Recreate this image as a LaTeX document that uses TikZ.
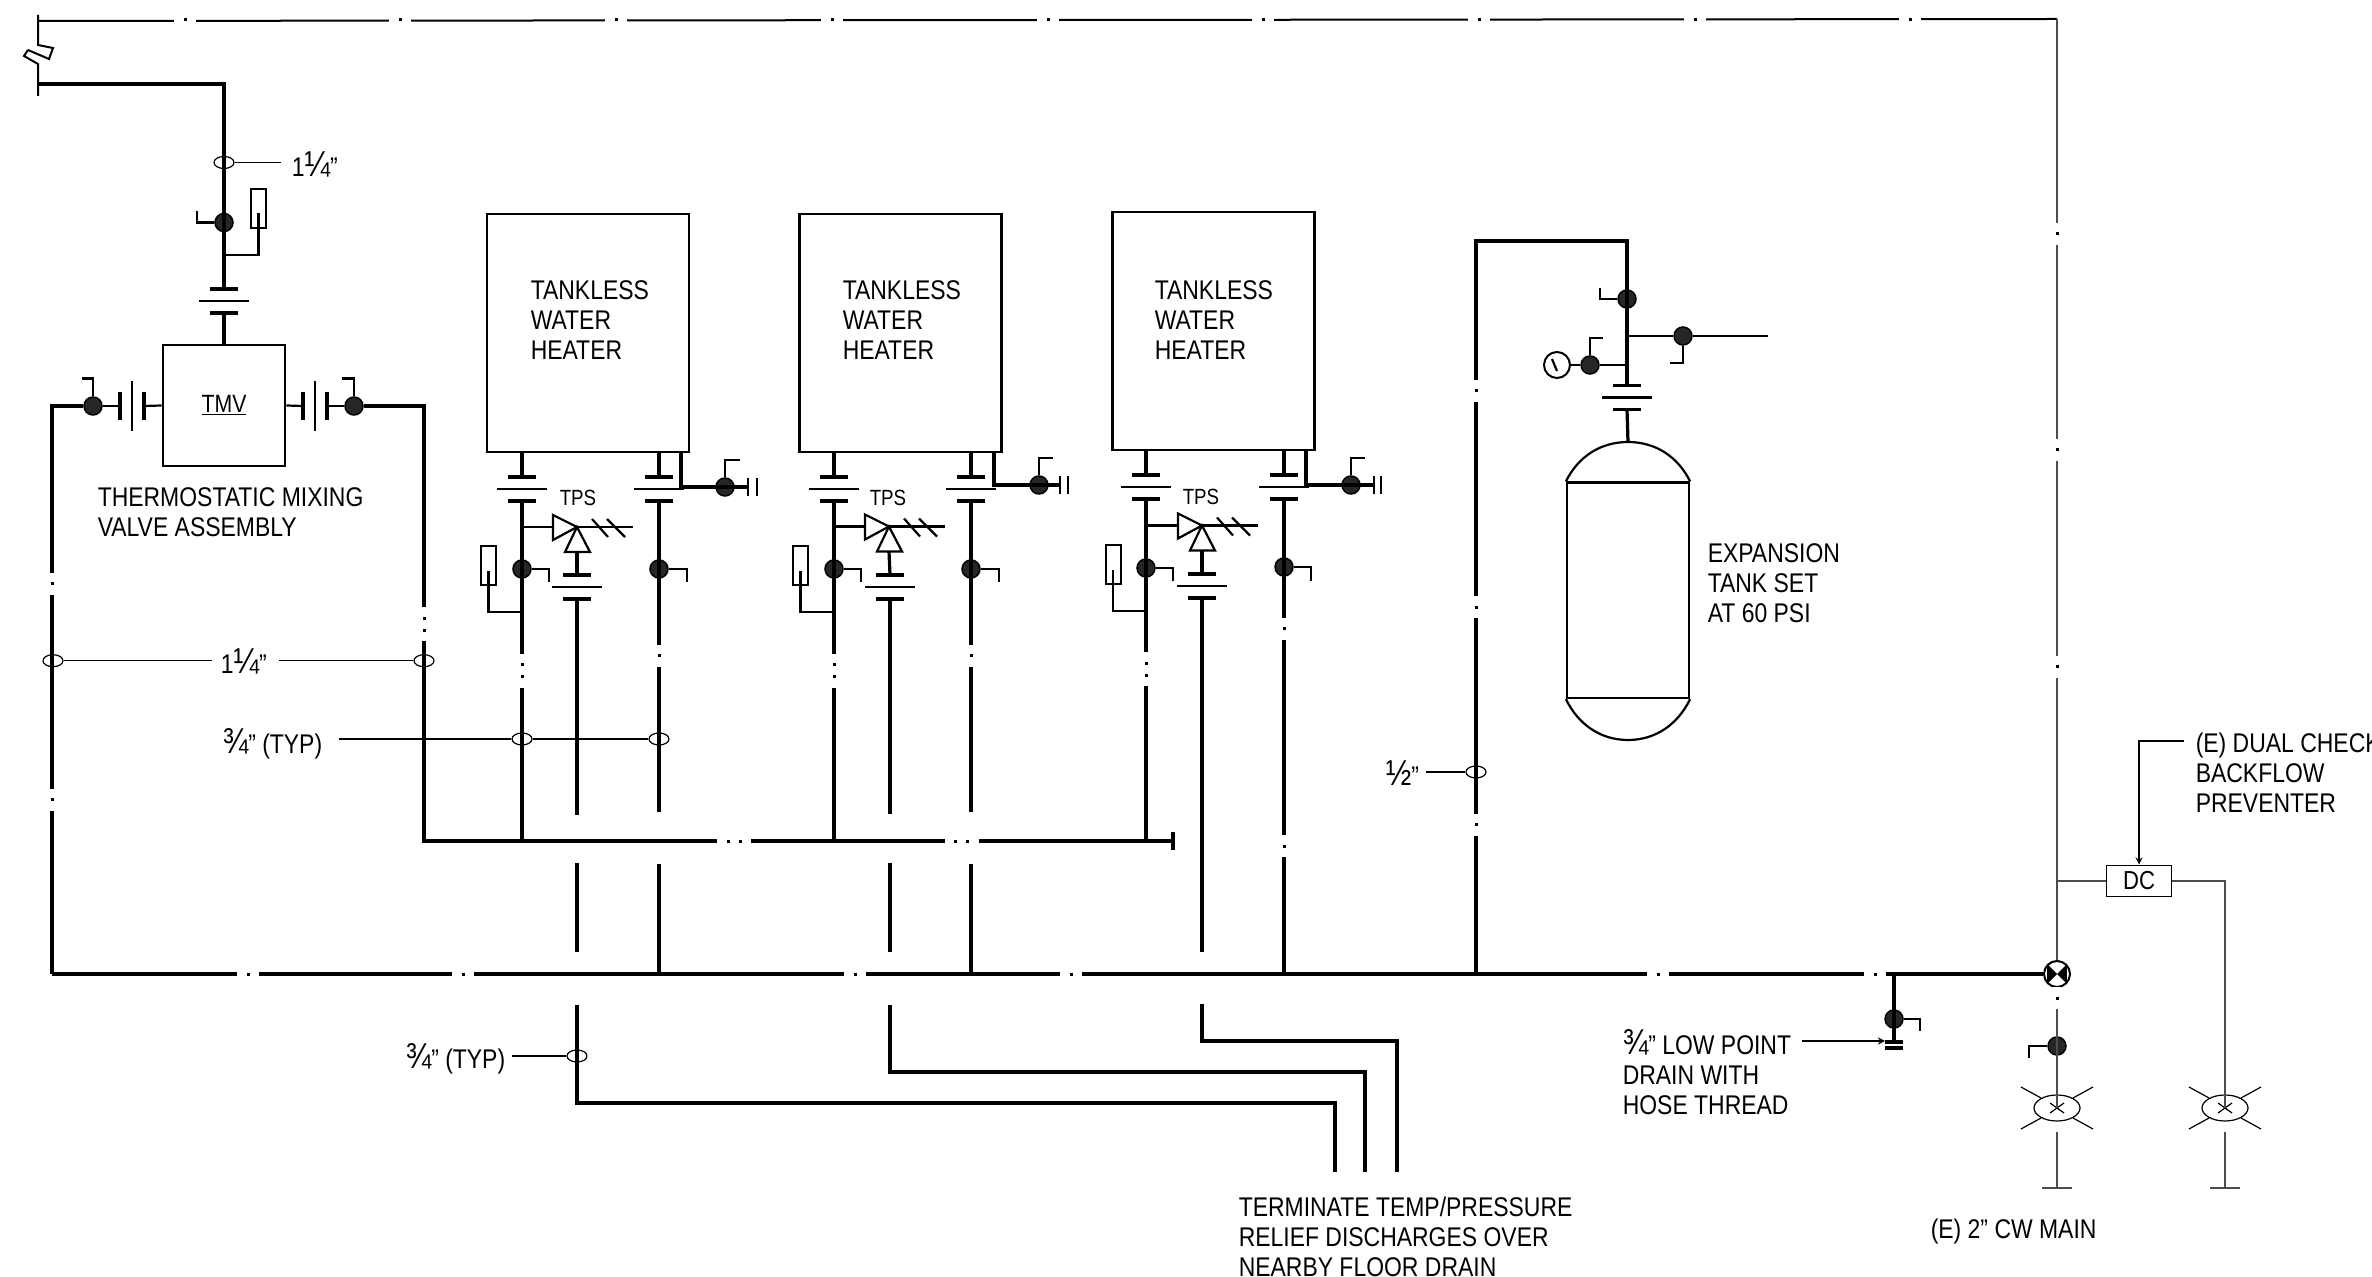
\documentclass[tikz,border=0pt]{standalone}
\usepackage{fontspec}
\setmainfont[FakeStretch=0.85]{Liberation Sans}
\usetikzlibrary{shapes.geometric}

\newcommand{\pf}[1]{{\fontsize{18}{18}\selectfont #1}}

\tikzset{every picture/.style={line width=0.75pt}}
\tikzset{
  pipe/.style={line width=1.6pt},
  branch/.style={line width=1.1pt},
  cold/.style={line width=1pt},
  coldgrey/.style={line width=0.8pt,color=black!70},
  leader/.style={line width=0.6pt},
  valve/.style={circle,draw,fill=black!85,inner sep=0pt,minimum size=9pt},
  sizetag/.style={ellipse,draw,inner sep=0pt,minimum width=10pt,minimum height=6pt,line width=0.6pt},
  gaugebox/.style={rectangle,draw,line width=1pt,inner sep=0pt,minimum width=7.5pt,minimum height=19.5pt},
  heater/.style={rectangle,draw,line width=1.3pt,inner sep=0pt,minimum width=101pt,minimum height=119pt},
  note/.style={anchor=north west,inner sep=0pt,align=left,font=\fontsize{13.5}{15}\selectfont},
  small note/.style={note,font=\fontsize{11}{13}\selectfont},
  union/.pic={
    \draw[pipe] (-14,12) -- (14,12);
    \draw[branch] (-25,0) -- (25,0);
    \draw[pipe] (-14,-12) -- (14,-12);
    \coordinate (-a) at (0,12);
    \coordinate (-b) at (0,-12);
  },
  relief/.pic={
    \draw[branch] (-24,12) -- (0,0) -- (-24,-13) -- cycle;
    \draw[branch] (0,0) -- (-12,-25) -- (13,-25) -- cycle;
    \draw[branch] (0,0) -- (56,0);
    \draw[branch] (15,8) -- (31,-10);
    \draw[branch] (30,8) -- (48,-10);
    \coordinate (-in) at (-24,0);
    \coordinate (-stem) at (0,-25);
  },
  gapone/.pic={
    \fill[white] (-11,-4) rectangle (11,4);
    \fill[black] (-1.5,-1.5) rectangle (1.5,1.5);
  },
  gaptwo/.pic={
    \fill[white] (-17,-4) rectangle (17,4);
    \fill[black] (-7.5,-1.5) rectangle (-4.5,1.5);
    \fill[black] (4.5,-1.5) rectangle (7.5,1.5);
  },
  crossing/.pic={
    \draw[leader] (-36,-21) -- (-16,-10);
    \draw[leader] (36,-21) -- (16,-10);
    \draw[leader] (-36,21) -- (-16,10);
    \draw[leader] (36,21) -- (16,10);
    \draw[leader] (-7,-5) -- (7,5);
    \draw[leader] (-7,5) -- (7,-5);
  },
}

\begin{document}
\begin{tikzpicture}[x=0.5pt,y=0.5pt,yscale=-1,xscale=1]
\useasboundingbox (0,0) rectangle (2372,1277);

% Named points
\coordinate (tl) at (38,21);
\coordinate (tr) at (2057,19);
\coordinate (brka) at (38,15);
\coordinate (brkb) at (38,96);
\coordinate (cfa) at (38,84);
\coordinate (cfb) at (224,84);
\coordinate (jt) at (224,255);
\coordinate (lfa) at (52,406);
\coordinate (lfb) at (52,974);
\coordinate (rfa) at (424,406);
\coordinate (rfb) at (424,841);
\coordinate (subend) at (1173,841);
\coordinate (mainr) at (2040,974);

%Shape: Rectangle [heaters, mixing valve, tank]
\node[heater] (h1) at (588,333) {};
\node[heater] (h2) at (900.5,333) {};
\node[heater] (h3) at (1213.5,331) {};
\node[rectangle,draw,line width=1.3pt,inner sep=0pt,minimum width=61pt,minimum height=60.5pt,font=\fontsize{12.5}{15}\selectfont] (tmv) at (224,405.5) {\underline{TMV}};
\node[rectangle,draw,line width=1.1pt,inner sep=0pt,minimum width=61pt,minimum height=107.75pt] (tank) at (1628,590.25) {};
\node[rectangle,draw,line width=0.7pt,inner sep=0pt,minimum width=32.25pt,minimum height=15.75pt,font=\fontsize{13}{15}\selectfont] (dc) at (2139,881) {DC};

%Shape: Unions
\pic (unt) at (224,301) {union};
\pic[rotate=90] (unl) at (132,406) {union};
\pic[rotate=90] (unr) at (315,406) {union};
\pic (un1a) at (522,489) {union};
\pic (un1b) at (659,489) {union};
\pic (un1c) at (577,587) {union};
\pic (un2a) at (834,489) {union};
\pic (un2b) at (971,489) {union};
\pic (un2c) at (890,587) {union};
\pic (un3a) at (1146,487) {union};
\pic (un3b) at (1284,487) {union};
\pic (un3c) at (1202,586) {union};
\pic (une) at (1627,397.5) {union};

%Shape: Relief valves
\pic (rv1) at (577,527) {relief};
\pic (rv2) at (889,526.5) {relief};
\pic (rv3) at (1202,525.5) {relief};

%Shape: Ball valves
\node[valve] (vt) at (224,222.5) {};
\node[valve] (vl) at (93,406) {};
\node[valve] (vr) at (354,406) {};
\node[valve] (v1a) at (522,569) {};
\node[valve] (v1b) at (659,569) {};
\node[valve] (v1c) at (725,487) {};
\node[valve] (v2a) at (834,569) {};
\node[valve] (v2b) at (971,569) {};
\node[valve] (v2c) at (1039,485) {};
\node[valve] (v3a) at (1146,568) {};
\node[valve] (v3b) at (1284,567) {};
\node[valve] (v3c) at (1351,485) {};
\node[valve] (ve1) at (1627,299) {};
\node[valve] (ve2) at (1683,336) {};
\node[valve] (ve3) at (1590,365) {};
\node[valve] (vd) at (1894,1019) {};
\node[valve] (vc) at (2057,1046) {};

%Shape: Thermometers, gauge
\node[gaugebox] (gt) at (258.5,209) {};
\node[gaugebox] (g1) at (488.5,566) {};
\node[gaugebox] (g2) at (800.5,566) {};
\node[gaugebox] (g3) at (1113,565) {};
\node[circle,draw,line width=1pt,inner sep=0pt,minimum size=13pt] (pg) at (1557,365) {};

%Shape: Pipe size marks
\node[sizetag] (tt) at (224,162.5) {};
\node[sizetag] (tl2) at (53,660.7) {};
\node[sizetag] (tr2) at (424,660.7) {};
\node[sizetag] (t1a) at (522,739) {};
\node[sizetag] (t1b) at (659,739) {};
\node[sizetag] (tdis) at (577,1056) {};
\node[sizetag] (texp) at (1476,772) {};

%Shape: Main junction
\node[circle,draw,line width=1pt,inner sep=0pt,minimum size=13pt] (mv) at (2057,974) {};
\fill (mv.center) -- (mv.135) -- (mv.225) -- cycle;
\fill (mv.center) -- (mv.45) -- (mv.-45) -- cycle;

%Shape: Curb stops
\node[ellipse,draw,line width=0.6pt,inner sep=0pt,minimum width=23pt,minimum height=13pt] (so1) at (2057,1108) {};
\node[ellipse,draw,line width=0.6pt,inner sep=0pt,minimum width=23pt,minimum height=13pt] (so2) at (2225,1108) {};
\pic at (so1) {crossing};
\pic at (so2) {crossing};

% Text Node
\node[note] (ltop) at (291,151) {1\pf{¼}"};
\node[note] (ltmv) at (97,487) {THERMOSTATIC MIXING\\VALVE ASSEMBLY};
\node[note] (lh1) at (530,280) {TANKLESS\\WATER\\HEATER};
\node[note] (lh2) at (842,280) {TANKLESS\\WATER\\HEATER};
\node[note] (lh3) at (1154,280) {TANKLESS\\WATER\\HEATER};
\node[small note] (lr1) at (559,489) {TPS};
\node[small note] (lr2) at (869,489) {TPS};
\node[small note] (lr3) at (1182,488) {TPS};
\node[note] (lexp) at (1707,543) {EXPANSION\\TANK SET\\AT 60 PSI};
\node[note] (lsup) at (220,648) {1\pf{¼}"};
\node[note] (ltyp) at (222,728) {\pf{¾}" (TYP)};
\node[note] (ldis) at (405,1043) {\pf{¾}" (TYP)};
\node[note] (lhalf) at (1385,760) {\pf{½}"};
\node[note] (llow) at (1622,1029) {\pf{¾}" LOW POINT\\DRAIN WITH\\HOSE THREAD};
\node[note] (lterm) at (1238,1196) {TERMINATE TEMP/PRESSURE\\RELIEF DISCHARGES OVER\\NEARBY FLOOR DRAIN};
\node[note] (lmain) at (1930,1218) {(E) 2" CW MAIN};
\node[note] (ldual) at (2195,732) {(E) DUAL CHECK\\BACKFLOW\\PREVENTER};

%Straight Lines [cold water]
\draw[cold] (tl) -- (tr);
\draw[coldgrey] (tr) -- (mv);
\draw[cold] (brka) -- ++(0,30) -- ++(15,3) -- ++(-4,11) -- ++(-21,-9);
\draw[cold] (brkb) -- ++(0,-32) -- ++(-14,-8) -- ++(4,-6);
\draw[coldgrey] (dc.west) -- (dc.west -| tr);
\draw[coldgrey] (dc.east) -| (so2.center);
\draw[coldgrey] (mv) -- (so1.center);
\coordinate (cwa) at (2057,1132);
\coordinate (cwb) at (2057,1188);
\coordinate (cwc) at (2225,1132);
\coordinate (cwd) at (2225,1188);
\draw[coldgrey] (cwa) -- (cwb);
\draw[coldgrey] (cwc) -- (cwd);
\draw[coldgrey] (cwb) ++(-15,0) -- ++(30,0);
\draw[coldgrey] (cwd) ++(-15,0) -- ++(30,0);
\draw[branch] (vc) -- ++(-28,0) -- ++(0,12);

%Straight Lines [to mixing valve]
\draw[pipe] (cfa) -- (cfb) -- (unt-a);
\draw[pipe] (unt-b) -- (tmv.north);
\draw[branch] (jt) -| (gt.south) -- ++(0,-16);
\draw[branch] (vt) -- ++(-27,0) -- ++(0,-11.5);
\draw[branch] (tmv.west) -- (unl-b);
\draw[branch] (tmv.east) -- (unr-a);
\draw[branch] (unl-a) -- (vl);
\draw[branch] (unr-b) -- (vr);
\draw[branch] (vl) -- ++(0,-27.5) -- ++(-11,0);
\draw[branch] (vr) -- ++(0,-27.5) -- ++(-12,0);
\draw[pipe] (vl) -- (lfa) -- (lfb);
\draw[pipe] (vr) -- (rfa) -- (rfb) -- (subend);
\draw[pipe] (subend) ++(0,-9) -- ++(0,18);
\draw[pipe] (lfb) -- (mainr) -- (mv);

%Straight Lines [heater 1]
\coordinate (h1a) at (522,452);
\coordinate (h1b) at (659,452);
\coordinate (h1c) at (681,452);
\coordinate (j1c) at (681,487);
\coordinate (b1) at (748,487);
\coordinate (s1) at (522,841);
\coordinate (j1g) at (522,612);
\coordinate (d1a) at (577,815);
\coordinate (d1b) at (577,863);
\coordinate (d1c) at (577,952);
\coordinate (d1d) at (577,1005);
\coordinate (d1e) at (577,1103);
\coordinate (d1f) at (1335,1103);
\coordinate (d1g) at (1335,1172);
\coordinate (r1a) at (659,812);
\coordinate (r1b) at (659,864);
\coordinate (r1c) at (659,974);
\draw[pipe] (h1a) -- (un1a-a);
\draw[pipe] (un1a-b) -- (s1);
\draw[branch] (rv1-in) -- (rv1-in -| s1);
\draw[pipe] (rv1-stem) -- (un1c-a);
\draw[pipe] (un1c-b) -- (d1a);
\draw[pipe] (d1b) -- (d1c);
\draw[pipe] (d1d) -- (d1e) -- (d1f) -- (d1g);
\draw[pipe] (h1b) -- (un1b-a);
\draw[pipe] (un1b-b) -- (r1a);
\draw[pipe] (r1b) -- (r1c);
\draw[pipe] (h1c) -- (j1c) -- (b1);
\draw[branch] (b1) ++(0,-9) -- ++(0,18);
\draw[branch] (b1) ++(9,-9) -- ++(0,18);
\draw[branch] (v1c) -- ++(0,-27) -- ++(15,0);
\draw[branch] (v1a) -- ++(27,0) -- ++(0,13);
\draw[branch] (v1b) -- ++(28,0) -- ++(0,13);
\draw[branch] (j1g) -| (g1.south) -- ++(0,-15);

%Straight Lines [heater 2]
\coordinate (h2a) at (834,452);
\coordinate (h2b) at (971,452);
\coordinate (h2c) at (994,452);
\coordinate (j2c) at (994,485);
\coordinate (b2) at (1060,485);
\coordinate (s2) at (834,841);
\coordinate (j2g) at (834,612);
\coordinate (d2a) at (890,814);
\coordinate (d2b) at (890,863);
\coordinate (d2c) at (890,952);
\coordinate (d2d) at (890,1005);
\coordinate (d2e) at (890,1072);
\coordinate (d2f) at (1365,1072);
\coordinate (d2g) at (1365,1172);
\coordinate (r2a) at (971,812);
\coordinate (r2b) at (971,864);
\coordinate (r2c) at (971,974);
\draw[pipe] (h2a) -- (un2a-a);
\draw[pipe] (un2a-b) -- (s2);
\draw[branch] (rv2-in) -- (rv2-in -| s2);
\draw[pipe] (rv2-stem) -- (un2c-a);
\draw[pipe] (un2c-b) -- (d2a);
\draw[pipe] (d2b) -- (d2c);
\draw[pipe] (d2d) -- (d2e) -- (d2f) -- (d2g);
\draw[pipe] (h2b) -- (un2b-a);
\draw[pipe] (un2b-b) -- (r2a);
\draw[pipe] (r2b) -- (r2c);
\draw[pipe] (h2c) -- (j2c) -- (b2);
\draw[branch] (b2) ++(0,-9) -- ++(0,18);
\draw[branch] (b2) ++(8,-9) -- ++(0,18);
\draw[branch] (v2c) -- ++(0,-27) -- ++(14,0);
\draw[branch] (v2a) -- ++(27,0) -- ++(0,13);
\draw[branch] (v2b) -- ++(28,0) -- ++(0,13);
\draw[branch] (j2g) -| (g2.south) -- ++(0,-15);

%Straight Lines [heater 3]
\coordinate (h3a) at (1146,450);
\coordinate (h3b) at (1284,450);
\coordinate (h3c) at (1306,450);
\coordinate (j3c) at (1306,485);
\coordinate (b3) at (1374,485);
\coordinate (s3) at (1146,841);
\coordinate (j3g) at (1146,611);
\coordinate (d3c) at (1202,952);
\coordinate (d3d) at (1202,1004);
\coordinate (d3e) at (1202,1041);
\coordinate (d3f) at (1397,1041);
\coordinate (d3g) at (1397,1172);
\coordinate (r3c) at (1284,974);
\draw[pipe] (h3a) -- (un3a-a);
\draw[pipe] (un3a-b) -- (s3);
\draw[branch] (rv3-in) -- (rv3-in -| s3);
\draw[pipe] (rv3-stem) -- (un3c-a);
\draw[pipe] (un3c-b) -- (d3c);
\draw[pipe] (d3d) -- (d3e) -- (d3f) -- (d3g);
\draw[pipe] (h3b) -- (un3b-a);
\draw[pipe] (un3b-b) -- (r3c);
\draw[pipe] (h3c) -- (j3c) -- (b3);
\draw[branch] (b3) ++(0,-9) -- ++(0,18);
\draw[branch] (b3) ++(7,-9) -- ++(0,18);
\draw[branch] (v3c) -- ++(0,-27) -- ++(14,0);
\draw[branch] (v3a) -- ++(27,0) -- ++(0,13);
\draw[branch] (v3b) -- ++(27,0) -- ++(0,14);
\draw[branch] (j3g) -| (g3.south) -- ++(0,-15);

%Straight Lines [expansion tank]
\coordinate (ea) at (1476,974);
\coordinate (eb) at (1476,241);
\coordinate (ec) at (1627,241);
\coordinate (ed) at (1627,336);
\coordinate (ee) at (1627,365);
\coordinate (ef) at (1768,336);
\coordinate (dome) at (1628,442);
\coordinate (domeb) at (1628,740);
\draw[pipe] (ea) -- (eb) -- (ec) -- (une-a);
\draw[pipe] (une-b) -- (dome);
\draw[branch] (ed) -- (ve2) -- (ef);
\draw[branch] (ee) -- (ve3) -- (pg);
\draw[branch] (ve1) -- ++(-27,0) -- ++(0,-11);
\draw[branch] (ve2) -- ++(0,27) -- ++(-13,0);
\draw[branch] (ve3) -- ++(0,-27) -- ++(13,0);
\draw[branch] (pg) ++(-5,-6) -- ++(5,12);
\draw[line width=1.1pt] (tank.north west) .. controls (1578,457) and (1600,442) .. (dome) .. controls (1656,442) and (1678,457) .. (tank.north east);
\draw[line width=1.1pt] (tank.south west) .. controls (1578,724) and (1600,740) .. (domeb) .. controls (1656,740) and (1678,724) .. (tank.south east);

%Straight Lines [low point drain]
\coordinate (lda) at (1894,974);
\coordinate (ldb) at (1894,1042);
\coordinate (ldc) at (1885,1041);
\coordinate (ldd) at (1802,1041);
\draw[pipe] (lda) -- (ldb);
\draw[pipe] (ldb) ++(-9,0) -- ++(18,0);
\draw[pipe] (ldb) ++(-9,6) -- ++(18,0);
\draw[branch] (vd) -- ++(26,0) -- ++(0,12);
\draw[leader,-stealth] (ldd) -- (ldc);

%Straight Lines [leaders]
\draw[leader,shorten >=5pt] (tt) -- (tt -| ltop.west);
\draw[leader,shorten >=4pt] (tl2) -- (tl2 -| lsup.west);
\draw[leader,shorten >=6pt] (tr2) -- (tr2 -| lsup.east);
\draw[leader,shorten <=8pt] (t1a -| ltyp.east) -- (t1a);
\draw[leader] (t1a) -- (t1b);
\draw[leader,shorten <=3pt] (tdis -| ldis.east) -- (tdis);
\draw[leader,shorten <=3pt] (texp -| lhalf.east) -- (texp);
\coordinate (ara) at (2184,741);
\draw[leader,-stealth] (ara) -| (dc.north);

%Shape: Line breaks
\foreach \gx in {185,400,616,832,1048,1263,1479,1695,1910} {\pic at (\gx,20) {gapone};}
\foreach \gx in {248,463,855,1071,1658,1875} {\pic at (\gx,974) {gapone};}
\foreach \gx in {734,961.5} {\pic at (\gx,841) {gaptwo};}
\foreach \gy in {584,800} {\pic[rotate=90] at (52,\gy) {gapone};}
\foreach \gy in {391,607.5,825} {\pic[rotate=90] at (1476,\gy) {gapone};}
\foreach \gy in {233.6,450,666.6,998} {\pic[rotate=90] at (2057,\gy) {gapone};}
\foreach \gy in {629,846} {\pic[rotate=90] at (1284,\gy) {gapone};}
\pic[rotate=90] at (424,624.5) {gaptwo};
\pic[rotate=90] at (522,671) {gaptwo};
\pic[rotate=90] at (659,656) {gapone};
\pic[rotate=90] at (834,671) {gaptwo};
\pic[rotate=90] at (971,656) {gapone};
\pic[rotate=90] at (1146,669.5) {gaptwo};

\end{tikzpicture}
\end{document}
